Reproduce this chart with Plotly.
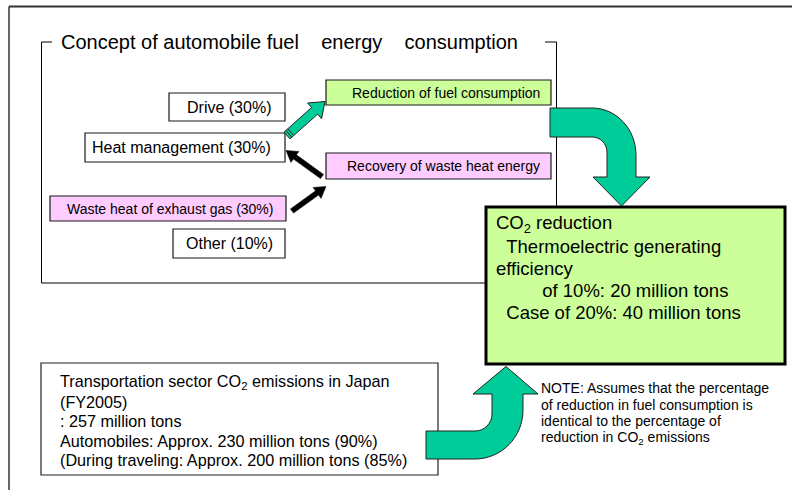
import math
import plotly.graph_objects as go

# ---------------- content ----------------
GAP = "\u00a0" * 4
title_text = "Concept of automobile fuel" + GAP + "energy" + GAP + "consumption"
share_labels = ["Drive (30%)", "Heat management (30%)",
                "Waste heat of exhaust gas (30%)", "Other (10%)"]
measure_labels = ["Reduction of fuel consumption", "Recovery of waste heat energy"]
co2_lines = ["CO<sub>2</sub> reduction",
             "\u00a0\u00a0Thermoelectric generating",
             "efficiency",
             "\u00a0\u00a0\u00a0\u00a0\u00a0\u00a0\u00a0\u00a0\u00a0of 10%: 20 million tons",
             "\u00a0\u00a0Case of 20%: 40 million tons"]
transport_lines = ["Transportation sector CO<sub>2</sub> emissions in Japan",
                   "(FY2005)",
                   ": 257 million tons",
                   "Automobiles: Approx. 230 million tons (90%)",
                   "(During traveling: Approx. 200 million tons (85%)"]
note_lines = ["NOTE: Assumes that the percentage",
              "of reduction in fuel consumption is",
              "identical to the percentage of",
              "reduction in CO<sub>2</sub> emissions"]

# ---------------- styling / geometry ----------------
FONT = "Arial, 'Liberation Sans', sans-serif"
GREEN_FILL = "#CCFF99"
PINK_FILL = "#FFCCFF"
ARROW_GREEN = "#00CC99"
EDGE = "#1a1a1a"

share_boxes = [(169, 93, 285, 121), (85, 133, 285, 162), (50, 196, 286, 221), (173, 229, 285, 258)]
share_fills = ["white", "white", PINK_FILL, "white"]
share_pad = [12, 12, 11, 10]
measure_boxes = [(326, 80, 551, 105), (326, 153, 551, 179)]
measure_fills = [GREEN_FILL, PINK_FILL]
co2_box = (486, 207, 785, 364)
transport_box = (41, 363, 438, 475)

shapes = []
annotations = []


def line(x0, y0, x1, y1, color="black", width=1):
    shapes.append(dict(type="line", xref="x", yref="y", x0=x0, y0=y0, x1=x1, y1=y1,
                       line=dict(color=color, width=width)))


def rect(b, fill, color=EDGE, width=1.2):
    shapes.append(dict(type="rect", xref="x", yref="y", x0=b[0], y0=b[1], x1=b[2], y1=b[3],
                       fillcolor=fill, line=dict(color=color, width=width)))


def path(d, fill, color="#333333", width=1):
    shapes.append(dict(type="path", xref="x", yref="y", path=d, fillcolor=fill,
                       line=dict(color=color, width=width)))


def text(x, y, t, size, anchor="left", color="black"):
    annotations.append(dict(x=x, y=y, xref="x", yref="y", text=t, showarrow=False,
                            xanchor=anchor, yanchor="middle",
                            font=dict(family=FONT, size=size, color=color)))


def block_arrow(tail, tip, shaft_hw, head_hw, head_len):
    dx, dy = tip[0] - tail[0], tip[1] - tail[1]
    L = math.hypot(dx, dy)
    ux, uy = dx / L, dy / L
    nx, ny = -uy, ux
    bx, by = tip[0] - ux * head_len, tip[1] - uy * head_len
    pts = [(tail[0] + nx * shaft_hw, tail[1] + ny * shaft_hw),
           (bx + nx * shaft_hw, by + ny * shaft_hw),
           (bx + nx * head_hw, by + ny * head_hw),
           tip,
           (bx - nx * head_hw, by - ny * head_hw),
           (bx - nx * shaft_hw, by - ny * shaft_hw),
           (tail[0] - nx * shaft_hw, tail[1] - ny * shaft_hw)]
    d = "M " + " L ".join(f"{p[0]:.2f},{p[1]:.2f}" for p in pts) + " Z"
    return d, (ux, uy, nx, ny)


# outer page frame
line(9, 6.5, 792, 6.5, color="#333333", width=2)
line(9, 6.5, 9, 490, color="#333333", width=1.5)

# concept frame (open at top for the title)
line(41.5, 42, 52, 42)
line(545, 42, 556.5, 42)
line(41.5, 42, 41.5, 283)
line(41.5, 283, 486, 283)
line(556.5, 42, 556.5, 207)

# share boxes
for b, f, lab, pad in zip(share_boxes, share_fills, share_labels, share_pad):
    rect(b, f)
    size = 14 if f == PINK_FILL else 16
    text(b[2] - pad, (b[1] + b[3]) / 2, lab, size, anchor="right")

for b, f, lab in zip(measure_boxes, measure_fills, measure_labels):
    rect(b, f)
    text(b[2] - 9, (b[1] + b[3]) / 2, lab, 14, anchor="right")

# small green striped arrow (heat management -> reduction)
d, (ux, uy, nx, ny) = block_arrow((287, 135.5), (325, 101.5), 4.5, 10.5, 14)
path(d, ARROW_GREEN, color="#222222", width=1)
for t in (2.5, 5.0):
    cx, cy = 287 + ux * t, 135.5 + uy * t
    line(cx - nx * 4.5, cy - ny * 4.5, cx + nx * 4.5, cy + ny * 4.5, color="#222222", width=1)

# black arrows
d, _ = block_arrow((322, 176.5), (286, 150.5), 2.6, 6.8, 11)
path(d, "black", color="black", width=0.5)
d, _ = block_arrow((292, 211), (326, 186.5), 2.6, 6.8, 11)
path(d, "black", color="black", width=0.5)

# CO2 box
rect(co2_box, GREEN_FILL, color="black", width=3)
co2_y = [223.5, 246, 268.5, 290.5, 312.5]
for t, y in zip(co2_lines, co2_y):
    text(494, y, t, 18.5)

# big curved arrow (reduction -> CO2 box)
k = 0.552
d = (f"M 550,108 L 592,108 C {592 + 44 * k:.1f},108 636,{155 - 47 * k:.1f} 636,155 "
     f"L 636,177 L 650,177 L 621.5,206 L 593,177 L 607,177 L 607,152 "
     f"C 607,{152 - 15 * k:.1f} {592 + 15 * k:.1f},137 592,137 L 550,137 Z")
path(d, ARROW_GREEN, color="#222222", width=1)

# transport box
rect(transport_box, "white", color="#222222", width=1.2)
tr_y = [382, 401.5, 421, 440.5, 460]
for t, y in zip(transport_lines, tr_y):
    text(58, y, t, 16.2)

# bottom curved arrow (transport -> CO2 box)
d = (f"M 426,459 L 475,459 C {475 + 48 * k:.1f},459 523,{410 + 49 * k:.1f} 523,410 "
     f"L 523,394 L 538,394 L 506,366.5 L 473,394 L 492,394 L 492,414 "
     f"C 492,{414 + 17 * k:.1f} {475 + 17 * k:.1f},431 475,431 L 426,431 Z")
path(d, ARROW_GREEN, color="#222222", width=1)

# note
note_y = [388, 404.5, 421, 437.5]
for t, y in zip(note_lines, note_y):
    text(539, y, t, 14)

# title
text(59, 41.5, title_text, 20)

fig = go.Figure()
fig.update_layout(
    width=792, height=490,
    margin=dict(l=0, r=0, t=0, b=0),
    paper_bgcolor="white", plot_bgcolor="white",
    xaxis=dict(range=[0, 792], visible=False, fixedrange=True),
    yaxis=dict(range=[490, 0], visible=False, fixedrange=True),
    shapes=shapes, annotations=annotations,
    showlegend=False,
)
fig.write_html("out.html",
               config={"displayModeBar": False, "staticPlot": True},
               post_script="document.body.style.margin='0px';document.body.style.overflow='hidden';")
